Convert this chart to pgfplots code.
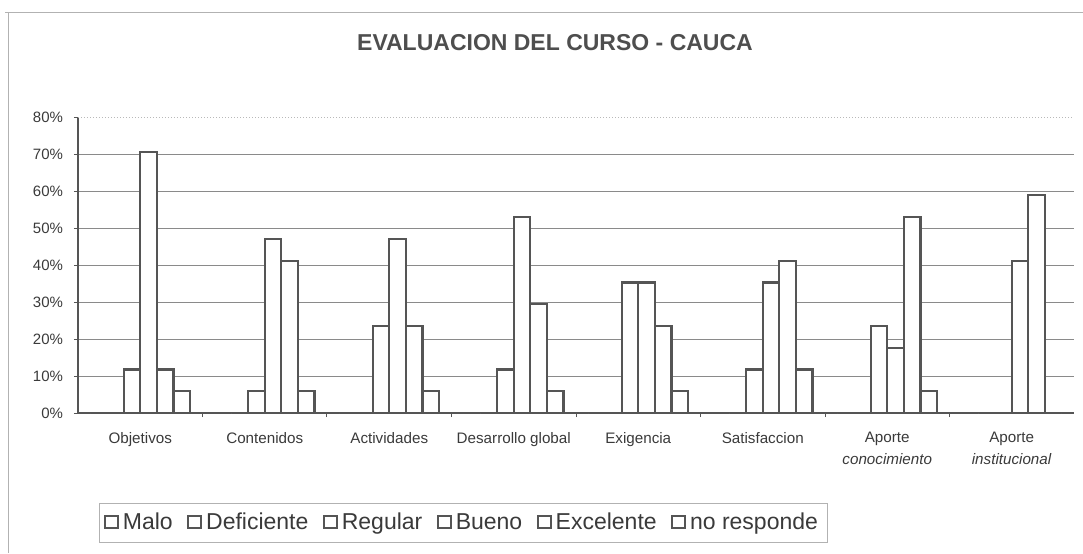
\documentclass[border=0pt]{standalone}
\usepackage{pgfplots}
\pgfplotsset{compat=1.18}
\usepackage{fontspec}
\setmainfont{Liberation Sans}
\definecolor{txt}{HTML}{3A3A3A}
\definecolor{barc}{HTML}{555555}
\definecolor{gridc}{HTML}{8A8A8A}
\begin{document}
\begin{tikzpicture}
\useasboundingbox (0,0) rectangle (541.5pt,276.5pt);
\draw[gray!60, line width=0.4pt] (2.5pt,270.5pt) -- (541.5pt,270.5pt);
\draw[gray!60, line width=0.4pt] (4pt,0pt) -- (4pt,270.5pt);
\node[font=\bfseries\fontsize{11.5}{13}\selectfont, text=txt!90!white] at (277.5pt,255pt) {EVALUACION DEL CURSO - CAUCA};
\begin{axis}[
  at={(39pt,70pt)}, anchor=south west,
  scale only axis, width=498pt, height=148pt,
  xmin=-0.5, xmax=7.5, ymin=0, ymax=80,
  axis x line*=bottom, axis y line*=left,
  axis line style={-, draw=barc, line width=0.7pt},
  ytick={0,10,...,70},
  extra y ticks={80}, extra y tick labels={80\%},
  extra y tick style={major grid style={densely dotted, gray!55, line width=0.5pt}},
  yticklabel={\pgfmathprintnumber{\tick}\%},
  ymajorgrids, major grid style={gridc, line width=0.5pt},
  tick align=outside, major tick length=2pt,
  y tick style={draw=barc, line width=0.5pt},
  every major x tick/.style={draw=none},
  minor xtick={0.5,1.5,...,6.5},
  minor tick length=2pt,
  every minor x tick/.style={draw=barc, line width=0.5pt},
  xtick={0,...,7},
  xticklabels={Objetivos, Contenidos, Actividades, Desarrollo global, Exigencia, Satisfaccion, {Aporte\\\textit{conocimiento}}, {Aporte\\\textit{institucional}}},
  xticklabel style={align=center, font=\fontsize{7.6}{11}\selectfont, text=txt, yshift=-4pt},
  yticklabel style={font=\fontsize{7.5}{9}\selectfont, text=txt, xshift=-2pt},
  /pgf/number format/assume math mode=true,
  ybar, bar width=0.1333,
  every axis plot/.append style={draw=barc, fill=white, line width=1.1pt},
  legend style={at={(0.3866,-0.3716)}, anchor=center, draw=gray!60, line width=0.4pt,
    font=\fontsize{11.5}{13}\selectfont, text=txt, inner xsep=2.5pt, inner ysep=2.5pt,
    nodes={text height=1.6ex, text depth=0.35ex}},
  legend columns=6,
  /tikz/every even column/.append style={column sep=5.3pt},
  legend image code/.code={\draw[draw=barc, fill=white, line width=1pt] (0pt,-2.6pt) rectangle (6.4pt,3.6pt);},
]
\addplot[bar shift=-0.3333] coordinates {(0,0) (1,0) (2,0) (3,0) (4,0) (5,0) (6,0) (7,0)};
\addplot[bar shift=-0.2] coordinates {(0,0) (1,0) (2,0) (3,0) (4,0) (5,0) (6,0) (7,0)};
\addplot[bar shift=-0.0667] coordinates {(0,11.76) (1,5.88) (2,23.53) (3,11.76) (4,35.29) (5,11.76) (6,23.53) (7,0)};
\addplot[bar shift=0.0667] coordinates {(0,70.59) (1,47.06) (2,47.06) (3,52.94) (4,35.29) (5,35.29) (6,17.65) (7,41.18)};
\addplot[bar shift=0.2] coordinates {(0,11.76) (1,41.18) (2,23.53) (3,29.41) (4,23.53) (5,41.18) (6,52.94) (7,58.82)};
\addplot[bar shift=0.3333] coordinates {(0,5.88) (1,5.88) (2,5.88) (3,5.88) (4,5.88) (5,11.76) (6,5.88) (7,0)};
\legend{Malo, Deficiente, Regular, Bueno, Excelente, no responde}
\end{axis}
\end{tikzpicture}
\end{document}
